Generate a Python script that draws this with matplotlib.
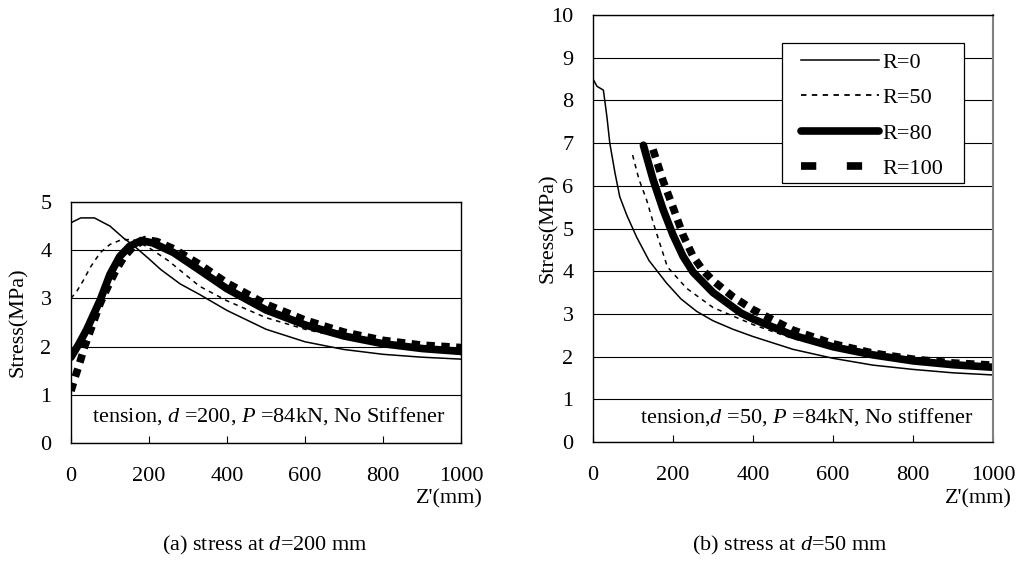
import matplotlib
matplotlib.use("Agg")
import matplotlib.pyplot as plt
from matplotlib.lines import Line2D
from matplotlib.patches import Rectangle

plt.rcParams['font.family'] = ['Liberation Serif', 'DejaVu Serif']
plt.rcParams['mathtext.fontset'] = 'custom'
plt.rcParams['mathtext.rm'] = 'Liberation Serif'
plt.rcParams['mathtext.it'] = 'Liberation Serif:italic'

# ---------------- data: (a) d = 200 mm ----------------
a_r0_x = [0, 25, 60, 100, 135, 160, 200, 230, 280, 330, 400, 500, 600, 700, 800, 900, 1000]
a_r0_y = [4.57, 4.67, 4.67, 4.5, 4.25, 4.1, 3.82, 3.6, 3.3, 3.08, 2.75, 2.36, 2.1, 1.94, 1.84, 1.78, 1.74]
a_r50_x = [0, 15, 30, 50, 75, 100, 130, 160, 200, 250, 330, 400, 500, 600, 700, 800, 900, 1000]
a_r50_y = [3.0, 3.15, 3.35, 3.65, 3.95, 4.12, 4.22, 4.22, 4.05, 3.78, 3.25, 2.95, 2.6, 2.36, 2.18, 2.05, 1.96, 1.9]
a_r80_x = [0, 20, 40, 75, 100, 125, 150, 180, 210, 263, 331, 400, 500, 600, 700, 800, 900, 1000]
a_r80_y = [1.78, 2.05, 2.35, 2.97, 3.5, 3.87, 4.08, 4.2, 4.15, 3.95, 3.58, 3.2, 2.76, 2.45, 2.22, 2.06, 1.96, 1.9]
a_r100_x = [0, 10, 20, 35, 55, 75, 95, 115, 135, 160, 190, 220, 263, 331, 400, 500, 600, 700, 800, 900, 1000]
a_r100_y = [1.08, 1.35, 1.6, 2.0, 2.45, 2.9, 3.25, 3.58, 3.85, 4.08, 4.22, 4.18, 4.03, 3.7, 3.32, 2.88, 2.55, 2.3, 2.13, 2.03, 1.98]

# ---------------- data: (b) d = 50 mm ----------------
b_r0_x = [0, 10, 26, 35, 42, 55, 67, 85, 109, 140, 184, 220, 259, 300, 350, 400, 500, 600, 700, 800, 900, 1000]
b_r0_y = [8.5, 8.33, 8.24, 7.6, 7.0, 6.3, 5.74, 5.3, 4.8, 4.25, 3.72, 3.35, 3.06, 2.84, 2.64, 2.47, 2.17, 1.96, 1.8, 1.7, 1.62, 1.57]
b_r50_x = [99, 115, 134, 155, 186, 234, 300, 400, 500, 600, 700, 800, 900, 1000]
b_r50_y = [6.72, 6.15, 5.67, 5.0, 4.1, 3.6, 3.15, 2.75, 2.42, 2.2, 2.03, 1.9, 1.8, 1.73]
b_r80_x = [126, 150, 175, 200, 225, 250, 300, 370, 400, 500, 600, 700, 800, 900, 1000]
b_r80_y = [6.95, 6.15, 5.45, 4.85, 4.35, 3.98, 3.5, 3.02, 2.88, 2.5, 2.23, 2.04, 1.9, 1.81, 1.75]
b_r100_x = [150, 175, 200, 225, 250, 275, 300, 350, 400, 500, 600, 700, 800, 900, 1000]
b_r100_y = [6.85, 6.12, 5.5, 4.85, 4.35, 4.02, 3.78, 3.4, 3.1, 2.62, 2.3, 2.08, 1.94, 1.85, 1.8]

series_labels = ["R=0", "R=50", "R=80", "R=100"]
x_ticks = [0, 200, 400, 600, 800, 1000]
a_yticks = [0, 1, 2, 3, 4, 5]
b_yticks = [0, 1, 2, 3, 4, 5, 6, 7, 8, 9, 10]

styles = [
    dict(color='black', lw=1.1, ls='-'),
    dict(color='black', lw=1.1, ls=(0, (3, 3))),
    dict(color='black', lw=5.5, ls='-', solid_capstyle='round'),
    dict(color='black', lw=5.5, ls=(0, (1.1, 0.85)), dash_capstyle='butt'),
]
legend_styles = [
    dict(color='black', lw=1.1, ls='-'),
    dict(color='black', lw=1.3, ls=(0, (3, 3))),
    dict(color='black', lw=5.5, ls='-', solid_capstyle='round'),
    dict(color='black', lw=5.5, ls=(0, (2.0, 4.0)), dash_capstyle='butt'),
]

W, H = 1019, 565
fig = plt.figure(figsize=(W / 100, H / 100), dpi=100)


def make_ax(l, r, t, b):
    return fig.add_axes([l / W, (H - b) / H, (r - l) / W, (b - t) / H])


ax1 = make_ax(71, 461, 202, 443)
ax2 = make_ax(593, 993, 15, 442)

FS = 16

for ax, data, yt, ylim in [
    (ax1, [(a_r0_x, a_r0_y), (a_r50_x, a_r50_y), (a_r80_x, a_r80_y), (a_r100_x, a_r100_y)], a_yticks, 5),
    (ax2, [(b_r0_x, b_r0_y), (b_r50_x, b_r50_y), (b_r80_x, b_r80_y), (b_r100_x, b_r100_y)], b_yticks, 10),
]:
    for (xs, ys), st, lab in zip(data, styles, series_labels):
        ax.plot(xs, ys, label=lab, **st)
    ax.set_xlim(0, 1000)
    ax.set_ylim(0, ylim)
    ax.set_xticks(x_ticks)
    ax.set_yticks(yt)
    ax.yaxis.grid(True, color='black', lw=0.8)
    ax.set_axisbelow(True)
    ax.tick_params(axis='x', direction='in', length=5, width=0.8, pad=17, labelsize=FS)
    ax.tick_params(axis='y', length=0, pad=14, labelsize=FS)
    for sp in ax.spines.values():
        sp.set_linewidth(1.0)
    ax.set_ylabel("Stress(MPa)", fontsize=FS)

ax1.yaxis.set_label_coords(-0.110, 0.5)
ax2.yaxis.set_label_coords(-0.0875, 0.5)
ax2.spines['right'].set_color('#808080')
ax2.spines['right'].set_linewidth(1.5)

ax1.text(55, 0.55, "tension, $d$ =200, $P$ =84kN, No Stiffener", fontsize=FS, va='center', ha='left')
ax2.text(118, 0.58, "tension,$d$ =50, $P$ =84kN, No stiffener", fontsize=FS, va='center', ha='left')

# legend box (frame) and entries
box = Rectangle((0.4725, 0.6066), 0.9275 - 0.4725, 0.9344 - 0.6066, transform=ax2.transAxes,
                facecolor='white', edgecolor='black', lw=0.9, zorder=5)
ax2.add_patch(box)
handles = [Line2D([], [], **st) for st in legend_styles]
leg = ax2.legend(handles, series_labels, loc='upper left', bbox_to_anchor=(0.52, 0.913),
                 fontsize=FS, frameon=False, handlelength=3.5, handletextpad=0.15,
                 labelspacing=0.67, borderpad=0.0, borderaxespad=0.0)
leg.set_zorder(6)

fig.text(483 / W, (H - 499) / H, "Z'(mm)", fontsize=FS, ha='right', va='center')
fig.text(1012 / W, (H - 499) / H, "Z'(mm)", fontsize=FS, ha='right', va='center')

fig.text(265 / W, (H - 545) / H, "(a) stress at $d$=200 mm", fontsize=FS, ha='center', va='center')
fig.text(790 / W, (H - 545) / H, "(b) stress at $d$=50 mm", fontsize=FS, ha='center', va='center')

fig.savefig("out.png", dpi=100)
